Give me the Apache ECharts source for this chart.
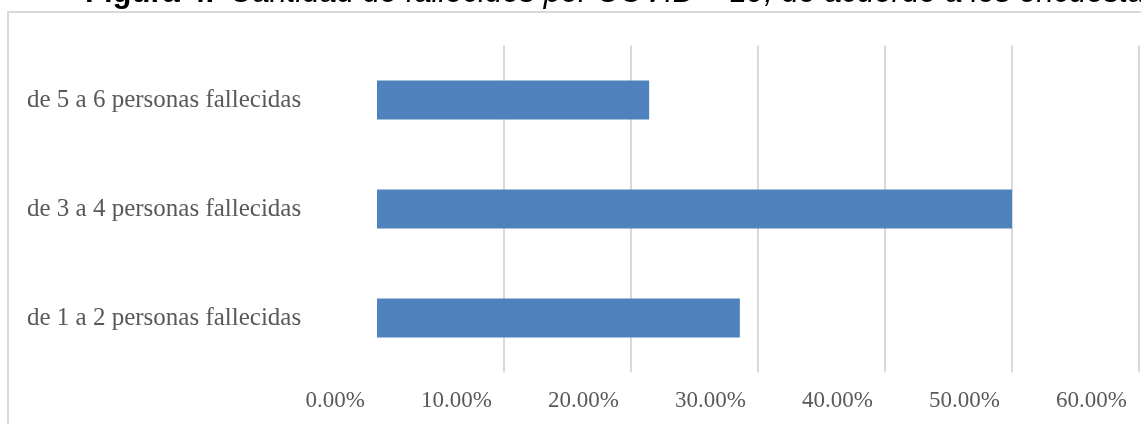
<!DOCTYPE html>
<html>
<head>
<meta charset="utf-8">
<title>Figura 4</title>
<script src="https://cdn.jsdelivr.net/npm/echarts@6/dist/echarts.min.js"></script>
<style>
  html, body { margin: 0; padding: 0; background: #fff; }
  #main { width: 1141px; height: 424px; }
</style>
</head>
<body>
<div id="main"></div>
<script>
// categorias de abajo hacia arriba (como en el eje de Excel)
var categories = [
  'de 1 a 2 personas fallecidas',
  'de 3 a 4 personas fallecidas',
  'de 5 a 6 personas fallecidas'
];
var values = [28.57, 50.00, 21.43]; // porcentaje
var xTicks = [0, 10, 20, 30, 40, 50, 60];

var titleBold = 'Figura 4.';
var titleItalic = 'Cantidad de fallecidos por COVID – 19, de acuerdo a los encuestados';

var chart = echarts.init(document.getElementById('main'), null, { renderer: 'canvas' });

// la primera linea (0%) no se ve en el original
var gridColors = xTicks.map(function (t, i) { return i === 0 ? 'rgba(0,0,0,0)' : '#d9d9d9'; });

var option = {
  backgroundColor: '#ffffff',
  animation: false,
  graphic: [
    {
      type: 'rect',
      z: -1,
      shape: { x: 8, y: 12, width: 1400, height: 700 },
      style: { fill: 'none', stroke: '#d9d9d9', lineWidth: 2 }
    },
    {
      type: 'text',
      x: 85,
      y: 9,
      style: {
        text: titleBold,
        font: 'bold 31px "Liberation Sans", Arial, sans-serif',
        fill: '#000',
        verticalAlign: 'bottom'
      }
    },
    {
      type: 'text',
      x: 230,
      y: 9,
      style: {
        text: titleItalic,
        font: 'italic 31px "Liberation Sans", Arial, sans-serif',
        fill: '#000',
        verticalAlign: 'bottom'
      }
    }
  ],
  grid: {
    left: 377,
    right: 2,
    top: 45.5,
    bottom: 51.5,
    containLabel: false,
    outerBoundsMode: 'none'
  },
  xAxis: {
    type: 'value',
    min: xTicks[0],
    max: xTicks[xTicks.length - 1],
    interval: 10,
    axisLine: { show: false },
    axisTick: { show: false },
    splitLine: { show: true, lineStyle: { color: gridColors, width: 2 } },
    axisLabel: {
      formatter: function (v) { return v.toFixed(2) + '%'; },
      fontFamily: '"Liberation Serif", serif',
      fontSize: 23,
      color: '#595959',
      align: 'right',
      padding: [0, 12, 0, 0],
      margin: 17
    }
  },
  yAxis: {
    type: 'category',
    data: categories,
    axisLine: { show: false },
    axisTick: { show: false },
    splitLine: { show: false },
    axisLabel: {
      align: 'left',
      margin: 350,
      fontFamily: '"Liberation Serif", serif',
      fontSize: 25,
      color: '#595959'
    }
  },
  series: [
    {
      type: 'bar',
      data: values,
      barWidth: 39,
      itemStyle: { color: '#4f81bd' }
    }
  ]
};

chart.setOption(option);
</script>
</body>
</html>
